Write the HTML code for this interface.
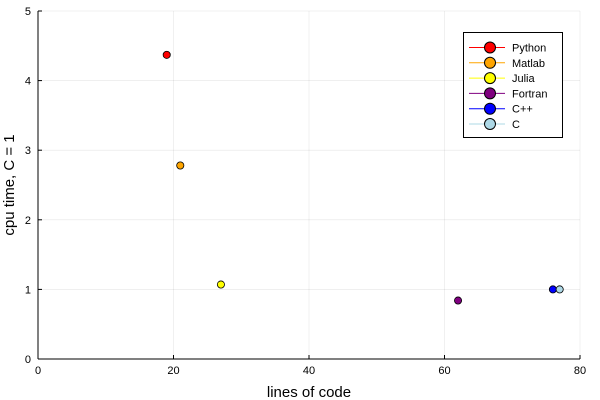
<!DOCTYPE html>
<html><head><meta charset="utf-8"><style>body{margin:0;background:#fff}svg{display:block;font-family:"Liberation Sans",sans-serif}</style></head>
<body>
<svg id="chart" width="600" height="400">
<g id="grid"></g>
<g id="axes"></g>
<g id="points"></g>
<g id="legend"></g>
<text x="309" y="397" text-anchor="middle" font-size="15">lines of code</text>
<text x="14" y="185" text-anchor="middle" font-size="15" transform="rotate(-90 14 185)">cpu time, C = 1</text>
</svg>
<script>
const languages=["Python","Matlab","Julia","Fortran","C++","C"];
const linesOfCode=[19,21,27,62,76,77];
const cpuTime=[4.37,2.78,1.07,0.84,1.0,1.0];
const colors=["red","orange","yellow","purple","blue","lightblue"];
const xTicks=[0,20,40,60,80];
const yTicks=[0,1,2,3,4,5];
const NS="http://www.w3.org/2000/svg";
const X0=38,X1=580,Y0=359,Y1=11;
const sx=v=>X0+(v-0)/(80-0)*(X1-X0);
const sy=v=>Y0-(v-0)/(5-0)*(Y0-Y1);
function mk(t,a,p){const e=document.createElementNS(NS,t);for(const k in a)e.setAttribute(k,a[k]);p.appendChild(e);return e;}
const grid=document.getElementById('grid'),axes=document.getElementById('axes'),pts=document.getElementById('points'),leg=document.getElementById('legend');
xTicks.forEach(t=>{
 const g=mk('line',{x1:sx(t),x2:sx(t),y1:Y1,y2:Y0,stroke:'#000','stroke-opacity':0.1,'stroke-width':0.6},grid);
 
 
 const tk=mk('line',{x1:sx(t),x2:sx(t),y1:Y0,y2:Y0-4,stroke:'#000'},axes);
 
 
 const l=mk('text',{x:sx(t),y:Y0+15,'text-anchor':'middle','font-size':11},axes);l.textContent=t;
 
 
});
yTicks.forEach(t=>{
 const g=mk('line',{x1:X0,x2:X1,y1:sy(t),y2:sy(t),stroke:'#000','stroke-opacity':0.1,'stroke-width':0.6},grid);
 
 
 const tk=mk('line',{x1:X0,x2:X0+4,y1:sy(t),y2:sy(t),stroke:'#000'},axes);
 
 
 const l=mk('text',{x:X0-7,y:sy(t)+4,'text-anchor':'end','font-size':11},axes);l.textContent=t;
 
 
});
const xa=mk('line',{x1:X0,x2:X1,y1:Y0,y2:Y0,stroke:'#000'},axes);


const ya=mk('line',{x1:X0,x2:X0,y1:Y1,y2:Y0,stroke:'#000'},axes);


languages.forEach((n,i)=>{
 const c=mk('circle',{cx:sx(linesOfCode[i]),cy:sy(cpuTime[i]),r:3.6,fill:colors[i],stroke:'#000','stroke-width':0.8},pts);
 
 
});
const box=mk('rect',{x:463.5,y:32.5,width:99,height:105,fill:'#fff',stroke:'#000','stroke-width':1},leg);


languages.forEach((n,i)=>{
 const y=47.5+i*15.3;
 const g=mk('g',{},leg);
 
 
 mk('line',{x1:469,x2:505,y1:y,y2:y,stroke:colors[i],'stroke-width':1},g);
 mk('circle',{cx:490,cy:y,r:5.5,fill:colors[i],stroke:'#000','stroke-width':1},g);
 const t=mk('text',{x:512,y:y+4,'font-size':11},g);t.textContent=n;
});
</script>
</body></html>
